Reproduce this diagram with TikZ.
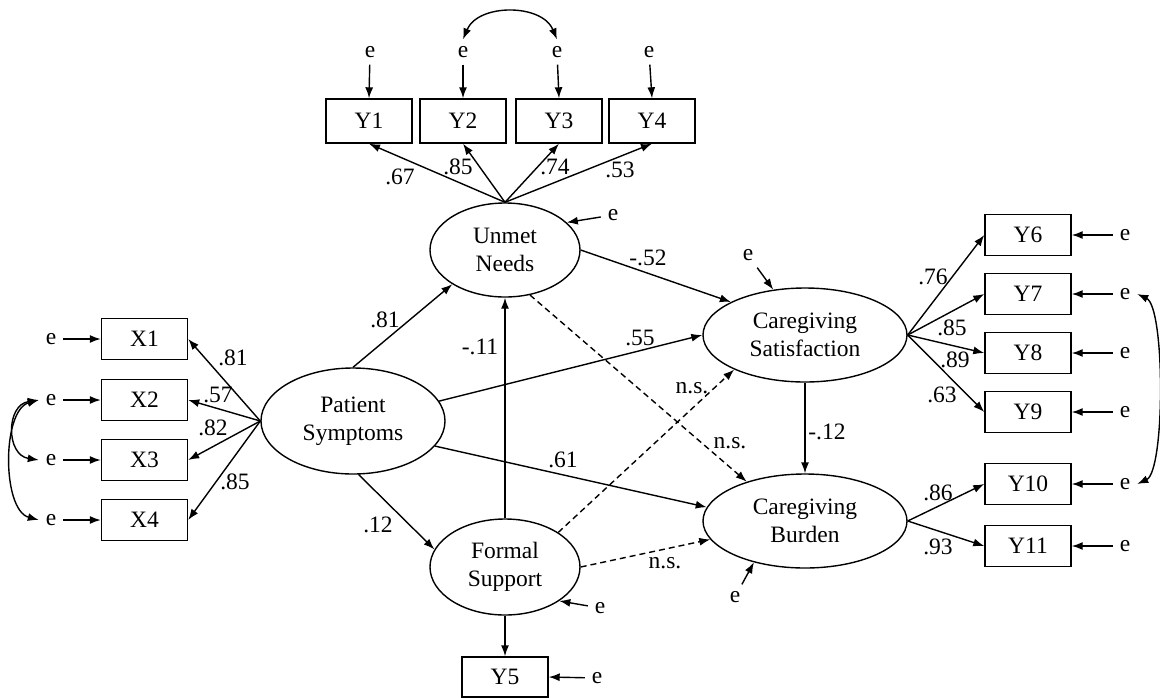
\documentclass[tikz,border=0pt]{standalone}
\usepackage{fontspec}
\setmainfont{Liberation Serif}
\usetikzlibrary{shapes.geometric,arrows.meta}
\begin{document}
\begin{tikzpicture}[x=1pt,y=-1pt,
  font=\fontsize{23.5}{28}\selectfont,
  mv/.style={draw,line width=1.4pt,minimum width=86pt,minimum height=41pt,inner sep=0pt},
  lat/.style={draw,ellipse,line width=1.4pt,inner sep=0pt,align=center},
  err/.style={inner sep=0pt,outer sep=7pt},
  lbl/.style={inner sep=0pt},
  arr/.style={-{Latex[length=11pt,width=8pt]},line width=1.4pt},
  nsarr/.style={arr,dash pattern=on 6pt off 4pt},
  dbl/.style={{Latex[length=11pt,width=8pt]}-{Latex[length=11pt,width=8pt]},line width=1.4pt}]
\useasboundingbox (0,0) rectangle (1160,697);

% latent variables
\node[lat,minimum width=150pt,minimum height=94pt] (un) at (505,250) {Unmet\\Needs};
\node[lat,minimum width=184pt,minimum height=106pt] (pat) at (353,421) {Patient\\Symptoms};
\node[lat,minimum width=150pt,minimum height=96pt] (fs) at (505,567) {Formal\\Support};
\node[lat,minimum width=204pt,minimum height=94pt] (sat) at (805,335) {Caregiving\\Satisfaction};
\node[lat,minimum width=204pt,minimum height=94pt] (bur) at (805,521) {Caregiving\\Burden};

% top indicators
\node[mv,minimum height=44pt] (Y1) at (369,121) {Y1};
\node[mv,minimum height=44pt] (Y2) at (463,121) {Y2};
\node[mv,minimum height=44pt] (Y3) at (559,121) {Y3};
\node[mv,minimum height=44pt] (Y4) at (652,121) {Y4};
\node[err] (eY1) at (370,52) {e};
\node[err] (eY2) at (463,52) {e};
\node[err] (eY3) at (557,52) {e};
\node[err] (eY4) at (649,52) {e};
\foreach \i in {1,...,4} {\draw[arr] (eY\i) -- (Y\i.north);}
\draw[dbl] (eY2.north) .. controls +(15,-36) and +(-15,-36) .. (eY3.north);

% left indicators
\node[mv] (X1) at (144.5,339) {X1};
\node[mv] (X2) at (144.5,400) {X2};
\node[mv] (X3) at (144.5,460) {X3};
\node[mv] (X4) at (144.5,520) {X4};
\node[err] (eX1) at (51,339) {e};
\node[err] (eX2) at (51,400) {e};
\node[err] (eX3) at (51,460) {e};
\node[err] (eX4) at (51,520) {e};
\foreach \i in {1,...,4} {\draw[arr] (eX\i) -- (X\i.west);}
\draw[dbl] (eX2.west) .. controls +(-33,5) and +(-33,-5) .. (eX3.west);
\draw[dbl] (eX2.west) .. controls +(-37,10) and +(-37,-10) .. (eX4.west);

% right indicators
\node[mv] (Y6) at (1028,235) {Y6};
\node[mv] (Y7) at (1028,294) {Y7};
\node[mv] (Y8) at (1028,353) {Y8};
\node[mv] (Y9) at (1028,412) {Y9};
\node[mv] (Y10) at (1028,484) {Y10};
\node[mv] (Y11) at (1028,546) {Y11};
\foreach \i/\yy in {6/235,7/294,8/353,9/412,10/484,11/546} {
  \node[err] (eY\i) at (1125,\yy) {e};
  \draw[arr] (eY\i) -- (Y\i.east);
}
\draw[dbl] (eY7.east) .. controls +(28,13) and +(28,-13) .. (eY10.east);

% bottom indicator
\node[mv,minimum height=40pt] (Y5) at (505,677) {Y5};
\node[err] (eY5) at (597,678) {e};
\draw[arr] (eY5) -- (Y5.east);

% latent disturbances
\node[err] (eU) at (613,215) {e};
\node[err] (eS) at (748,255) {e};
\node[err] (eB) at (735,597) {e};
\node[err] (eF) at (600,608) {e};
\draw[arr] (eU) -- (un.24);
\draw[arr] (eS) -- (sat.125);
\draw[arr] (eB) -- (bur.219);
\draw[arr] (eF) -- (fs.-32);

% loadings
\foreach \i in {1,...,4} {\draw[arr] (un.north) -- (Y\i.south);}
\foreach \i in {1,...,4} {\draw[arr] (pat.west) -- (X\i.east);}
\foreach \i in {6,...,9} {\draw[arr] (sat.east) -- (Y\i.west);}
\foreach \i in {10,11} {\draw[arr] (bur.east) -- (Y\i.west);}
\draw[arr] (fs.south) -- (Y5.north);

% structural paths
\draw[arr] (pat.90) -- (un.213);
\draw[arr] (pat.13) -- (sat.180);
\draw[arr] (pat.-17) -- (bur.172);
\draw[arr] (pat.-84) -- (fs.166);
\draw[arr] (fs.north) -- (un.south);
\draw[arr] (un.east) -- (sat.156);
\draw[nsarr] (un.-61) -- (bur.146);
\draw[nsarr] (fs.33) -- (sat.206);
\draw[nsarr] (fs.east) -- (bur.191);
\draw[arr] (sat.south) -- (bur.north);

% labels
\node[lbl] (l1) at (400,177) {.67};
\node[lbl] (l2) at (458,167) {.85};
\node[lbl] (l3) at (555,167) {.74};
\node[lbl] (l4) at (620,170) {.53};
\node[lbl] (l5) at (233,358) {.81};
\node[lbl] (l6) at (218,395) {.57};
\node[lbl] (l7) at (213,428) {.82};
\node[lbl] (l8) at (235,482) {.85};
\node[lbl] (l9) at (933,277) {.76};
\node[lbl] (l10) at (952,328) {.85};
\node[lbl] (l11) at (955,360) {.89};
\node[lbl] (l12) at (942,395) {.63};
\node[lbl] (l13) at (938,493) {.86};
\node[lbl] (l14) at (938,547) {.93};
\node[lbl] (l15) at (385,320) {.81};
\node[lbl] (l16) at (480,347) {-.11};
\node[lbl] (l17) at (640,338) {.55};
\node[lbl] (l18) at (648,258) {-.52};
\node[lbl] (l19) at (563,460) {.61};
\node[lbl] (l20) at (378,525) {.12};
\node[lbl] (l21) at (827,432) {-.12};
\node[lbl] (l22) at (692,388) {n.s.};
\node[lbl] (l23) at (730,443) {n.s.};
\node[lbl] (l24) at (665,563) {n.s.};
\end{tikzpicture}
\end{document}
